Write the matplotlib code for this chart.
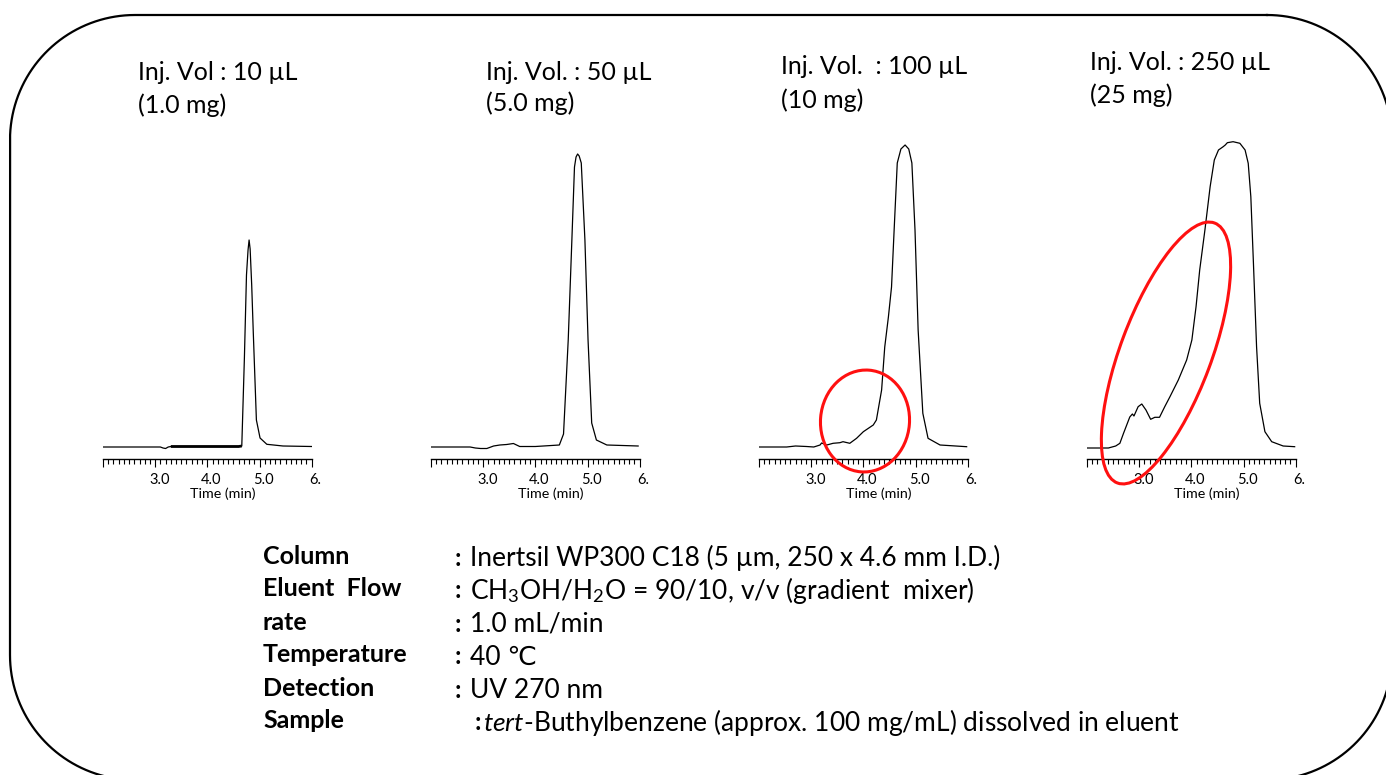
import matplotlib
matplotlib.use("Agg")
import matplotlib.pyplot as plt
import matplotlib.patches as mpatches
import matplotlib.transforms as mtransforms
import numpy as np

# fonts: Calibri-like look, fallback for the degree-C sign
plt.rcParams.update({
    "font.family": ["Lato", "DejaVu Sans"],
    "mathtext.fontset": "custom",
    "mathtext.rm": "Lato",
    "mathtext.it": "Lato:italic",
    "mathtext.bf": "Lato:bold",
})

# chromatogram traces, time (min) vs detector signal (a.u.)
t_10 = [2.00, 3.10, 3.15, 3.20, 3.25, 3.30, 4.00, 4.60, 4.66, 4.71, 4.75, 4.78,
        4.80, 4.82, 4.85, 4.88, 4.94, 5.01, 5.14, 5.45, 6.00]
s_10 = [0.00, 0.00, -0.01, -0.015, 0.00, 0.005, 0.005, 0.005, 0.01, 0.89, 1.72, 1.97,
        2.07, 1.98, 1.62, 1.15, 0.27, 0.09, 0.027, 0.01, 0.005]

t_50 = [2.00, 2.75, 2.85, 2.95, 3.07, 3.20, 3.32, 3.45, 3.58, 3.70, 4.00, 4.46, 4.54,
        4.63, 4.70, 4.75, 4.78, 4.81, 4.84, 4.88, 4.95, 5.01, 5.08, 5.17, 5.37, 5.97]
s_50 = [0.00, 0.00, -0.01, -0.015, -0.015, 0.01, 0.02, 0.025, 0.035, 0.005, 0.005, 0.02, 0.13,
        1.07, 2.07, 2.80, 2.90, 2.93, 2.91, 2.84, 2.07, 1.07, 0.24, 0.07, 0.02, 0.01]

t_100 = [2.00, 2.53, 2.70, 2.91, 3.05, 3.17, 3.20, 3.30, 3.42, 3.55, 3.61, 3.74, 3.87,
         4.00, 4.19, 4.25, 4.35, 4.41, 4.48, 4.54, 4.59, 4.65, 4.72, 4.80, 4.87, 4.93,
         4.99, 5.05, 5.14, 5.24, 5.47, 5.98]
s_100 = [0.00, 0.00, 0.01, 0.005, 0.00, 0.02, 0.04, 0.02, 0.037, 0.043, 0.053, 0.037, 0.087,
         0.153, 0.22, 0.27, 0.57, 1.00, 1.30, 1.60, 2.17, 2.84, 2.98, 3.02, 2.98, 2.84,
         2.17, 1.17, 0.337, 0.087, 0.02, 0.003]

t_250 = [2.00, 2.41, 2.55, 2.63, 2.70, 2.82, 2.87, 2.90, 2.98, 3.05, 3.13, 3.22, 3.30,
         3.39, 3.49, 3.59, 3.75, 3.91, 4.01, 4.09, 4.16, 4.26, 4.36, 4.44, 4.52, 4.61,
         4.65, 4.69, 4.80, 4.93, 5.03, 5.09, 5.14, 5.19, 5.25, 5.31, 5.41, 5.54, 5.76, 5.98]
s_250 = [-0.01, -0.01, 0.01, 0.037, 0.137, 0.30, 0.33, 0.31, 0.403, 0.43, 0.37, 0.277, 0.297,
         0.297, 0.403, 0.503, 0.67, 0.87, 1.07, 1.403, 1.77, 2.17, 2.603, 2.87, 2.97, 3.003,
         3.02, 3.043, 3.053, 3.037, 2.97, 2.837, 2.503, 1.837, 1.003, 0.437, 0.153, 0.053, 0.01, 0.003]

times = [t_10, t_50, t_100, t_250]
signals = [s_10, s_50, s_100, s_250]

vol_labels = ["Inj. Vol : 10 µL", "Inj. Vol. : 50 µL", "Inj. Vol.  : 100 µL", "Inj. Vol. : 250 µL"]
mass_labels = ["(1.0 mg)", "(5.0 mg)", "(10 mg)", "(25 mg)"]

tick_vals = [2.0, 3.0, 4.0, 5.0, 6.0]
tick_text = ["", "3.0", "4.0", "5.0", "6."]

cond_names = ["Column", "Eluent  Flow", "rate", "Temperature", "Detection", "Sample"]
cond_values = [
    "Inertsil WP300 C18 (5 µm, 250 x 4.6 mm I.D.)",
    "CH$_3$OH/H$_2$O = 90/10, v/v (gradient  mixer)",
    "1.0 mL/min",
    "40 ℃",
    "UV 270 nm",
    r"$\mathit{tert}$-Buthylbenzene (approx. 100 mg/mL) dissolved in eluent",
]

W, H = 1386, 775
fig = plt.figure(figsize=(W / 100, H / 100), dpi=100)

# panel layout in pixels
panel_left = [103, 431, 759, 1087]
panel_w = 208.7
spine_y = 459
top_y = 130

for i in range(4):
    ax = fig.add_axes([panel_left[i] / W, (H - spine_y) / H,
                       panel_w / W, (spine_y - top_y) / H])
    ax.plot(times[i], signals[i], color="black", lw=0.9)
    if i == 0:
        # heavier stroke along the flat baseline in the first trace
        tt = np.array(t_10)
        ss = np.array(s_10)
        m = (tt >= 3.3) & (tt <= 4.66)
        ax.plot(tt[m], ss[m], color="black", lw=2.0, solid_capstyle="butt")
    ax.set_xlim(2.0, 6.0)
    ax.set_ylim(-0.12, 3.17)
    for side in ["top", "right", "left"]:
        ax.spines[side].set_visible(False)
    ax.spines["bottom"].set_linewidth(1.0)
    ax.set_yticks([])
    ax.set_xticks(tick_vals)
    ax.set_xticklabels(tick_text, fontsize=10.5)
    ax.set_xticks(np.arange(2.0, 6.01, 0.1), minor=True)
    ax.tick_params(axis="x", which="major", length=6, width=0.8, pad=4)
    ax.tick_params(axis="x", which="minor", length=3.5, width=0.8)
    shift = mtransforms.ScaledTranslation(4 / 100, 0, fig.dpi_scale_trans)
    for lbl in ax.get_xticklabels():
        lbl.set_transform(lbl.get_transform() + shift)
    ax.set_xlabel("Time (min)", fontsize=10.3, va="center")
    ax.xaxis.set_label_coords(0.575, -0.106)
    ax.patch.set_alpha(0)

# overlay in pixel coordinates for the frame, notes and circles
ov = fig.add_axes([0, 0, 1, 1])
ov.set_xlim(0, W)
ov.set_ylim(H, 0)
ov.axis("off")
ov.patch.set_alpha(0)

# rounded frame, runs off the right and bottom edges of the canvas
fx0, fy0, fx1, fy1, rad = 10, 15, 1392, 780, 125
corners = [(fx1 - rad, fy0 + rad, -90, 0), (fx1 - rad, fy1 - rad, 0, 90),
           (fx0 + rad, fy1 - rad, 90, 180), (fx0 + rad, fy0 + rad, 180, 270)]
px, py = [], []
for cx, cy, a0, a1 in corners:
    ang = np.radians(np.linspace(a0, a1, 40))
    px.extend(cx + rad * np.cos(ang))
    py.extend(cy + rad * np.sin(ang))
px.append(px[0])
py.append(py[0])
ov.plot(px, py, color="black", lw=1.6, clip_on=False)

title_xy = [(138, 73, 105), (486, 72, 103), (781, 67, 100), (1090, 62, 95)]
for (x, y1, y2), a, b in zip(title_xy, vol_labels, mass_labels):
    ov.text(x, y1, a, fontsize=18, ha="left", va="center")
    ov.text(x, y2, b, fontsize=18, ha="left", va="center")

ov.add_patch(mpatches.Ellipse((865, 421), 102, 89, angle=-85.3,
                              fill=False, ec="#FF1010", lw=2.2))
ov.add_patch(mpatches.Ellipse((1166, 353), 277.5, 91, angle=-69.5,
                              fill=False, ec="#FF1010", lw=2.2))

for k, (name, val) in enumerate(zip(cond_names, cond_values)):
    y = 556 + k * 33
    ov.text(263, y, name, fontsize=18, fontweight="bold", ha="left", va="center")
    cx, vx = (455, 470) if k < 5 else (475, 483)
    ov.text(cx, y + 2, ":", fontsize=18, fontweight="bold", ha="left", va="center")
    ov.text(vx, y + 2, val, fontsize=19, ha="left", va="center")

fig.savefig("out.png", dpi=100)
